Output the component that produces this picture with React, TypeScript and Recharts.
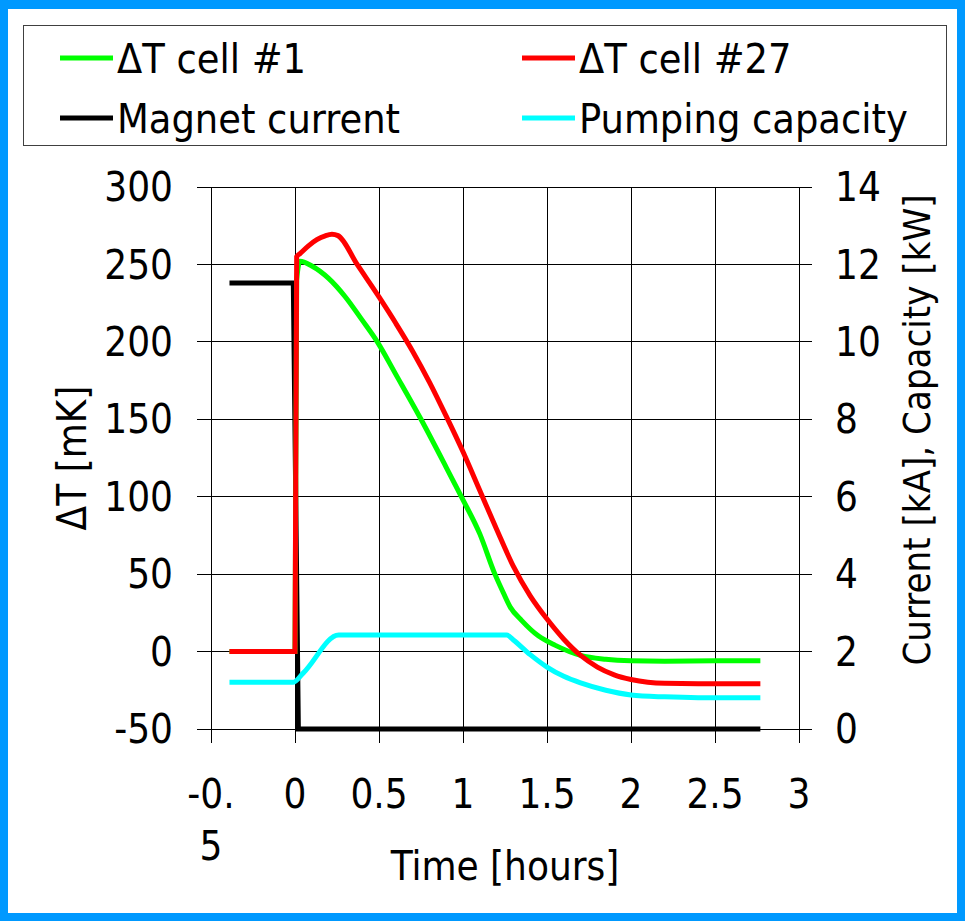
import { LineChart, Line, XAxis, YAxis, CartesianGrid } from 'recharts';

const FONT = '"DejaVu Sans Condensed", "DejaVu Sans", sans-serif';

// axes
const xTicks = [-0.5, 0, 0.5, 1, 1.5, 2, 2.5, 3];
const leftTicks = [-50, 0, 50, 100, 150, 200, 250, 300];
const rightTicks = [0, 2, 4, 6, 8, 10, 12, 14];

// ΔT cell #1 [mK]
const cell1Time = [-0.39, 0, 0.01, 0.03, 0.1, 0.2, 0.3, 0.4, 0.49, 0.6, 0.75, 0.9, 0.99, 1.1, 1.19, 1.24, 1.28, 1.35, 1.45, 1.55, 1.7, 1.85, 2.0, 2.2, 2.5, 2.77];
const cell1Values = [0, 0, 240, 252, 249, 241, 229, 214, 200, 179, 150, 119, 100, 76, 50, 38, 29, 20, 10, 4, -2.5, -5, -6, -6.3, -6, -6];

// ΔT cell #27 [mK]
const cell27Time = [-0.39, 0, 0.01, 0.03, 0.08, 0.13, 0.18, 0.22, 0.256, 0.37, 0.5, 0.6, 0.7, 0.8, 0.9, 1.0, 1.1, 1.2, 1.3, 1.4, 1.5, 1.6, 1.7, 1.8, 1.9, 2.0, 2.1, 2.2, 2.4, 2.77];
const cell27Values = [0, 0, 255, 257, 262, 266, 268.5, 269.5, 268.6, 250, 229, 212, 194, 174, 152, 129, 104, 79, 55, 36, 21, 8, -2.5, -10, -15, -18, -19.8, -20.5, -20.7, -20.7];

// Magnet current [kA]
const magnetTime = [-0.39, -0.01, 0.02, 2.77];
const magnetValues = [11.52, 11.52, 0, 0];

// Pumping capacity [kW]
const pumpTime = [-0.39, -0.01, 0.05, 0.26, 1.26, 1.3, 1.4, 1.5, 1.6, 1.7, 1.85, 2.0, 2.2, 2.4, 2.77];
const pumpValues = [1.21, 1.21, 1.45, 2.43, 2.43, 2.3, 1.92, 1.6, 1.36, 1.19, 1.0, 0.88, 0.83, 0.81, 0.81];

const toPoints = (t: number[], v: number[]) => t.map((time, i) => ({ time, value: v[i] }));

const cell1Data = toPoints(cell1Time, cell1Values);
const cell27Data = toPoints(cell27Time, cell27Values);
const magnetData = toPoints(magnetTime, magnetValues);
const pumpData = toPoints(pumpTime, pumpValues);

const legendItems = [
  { name: 'ΔT cell #1', color: '#00ff00' },
  { name: 'ΔT cell #27', color: '#ff0000' },
  { name: 'Magnet current', color: '#000000' },
  { name: 'Pumping capacity', color: '#00ffff' },
];

// excel wraps the too-wide "-0.5" label onto two lines
const TimeTick = ({ x, y, payload }: any) => {
  const label = String(payload.value);
  const lines = label.length > 3 ? [label.slice(0, 3), label.slice(3)] : [label];
  return (
    <text x={x} y={y} textAnchor="middle" fontFamily={FONT} fontSize={40} fill="#000">
      {lines.map((l, i) => (
        <tspan key={i} x={x} dy={i === 0 ? '0.71em' : 52}>
          {l}
        </tspan>
      ))}
    </text>
  );
};

function Legend() {
  return (
    <div
      style={{
        position: 'absolute',
        left: 23,
        top: 25,
        width: 924,
        height: 121,
        border: '1px solid #404040',
        boxSizing: 'border-box',
        background: '#fff',
      }}
    >
      <svg width={922} height={119} style={{ position: 'absolute', left: 0, top: 0 }}>
        {legendItems.map((item, i) => {
          const col = i % 2;
          const row = Math.floor(i / 2);
          const lx = col === 0 ? 36 : 498;
          const cy = 32 + row * 60;
          return (
            <g key={item.name}>
              <line x1={lx} x2={lx + 53} y1={cy} y2={cy} stroke={item.color} strokeWidth={5} />
              <text x={lx + 57} y={cy + 15} fontFamily={FONT} fontSize={41} fill="#000">
                {item.name}
              </text>
            </g>
          );
        })}
      </svg>
    </div>
  );
}

export default function App() {
  const tickStyle = { fill: '#000', fontSize: 40, fontFamily: FONT };
  const titleStyle = { fill: '#000', fontSize: 40, fontFamily: FONT };
  const crispLine = { stroke: '#000', shapeRendering: 'crispEdges' };

  return (
    <div
      style={{
        position: 'absolute',
        left: 0,
        top: 0,
        width: 965,
        height: 921,
        background: '#fff',
        border: '8px solid #0099ff',
        borderTopWidth: 9,
        boxSizing: 'border-box',
        overflow: 'hidden',
      }}
    >
      <div style={{ position: 'absolute', left: -8, top: -9 }}>
        <LineChart width={965} height={921} margin={{ top: 187, right: 66, bottom: 132, left: 111 }}>
          <CartesianGrid yAxisId="left" stroke="#000" strokeWidth={1} shapeRendering="crispEdges" />
          <XAxis
            dataKey="time"
            type="number"
            domain={[-0.5, 3]}
            ticks={xTicks}
            allowDataOverflow
            height={60}
            tick={<TimeTick />}
            tickSize={14}
            tickMargin={37}
            axisLine={crispLine}
            tickLine={crispLine}
            label={{ value: 'Time [hours]', position: 'center', dy: 107, style: titleStyle }}
          />
          <YAxis
            yAxisId="left"
            domain={[-50, 300]}
            ticks={leftTicks}
            width={100}
            tick={tickStyle}
            tickSize={14}
            tickMargin={24}
            axisLine={crispLine}
            tickLine={crispLine}
            label={{ value: 'ΔT [mK]', angle: -90, position: 'center', dx: -89, style: titleStyle }}
          />
          <YAxis
            yAxisId="right"
            orientation="right"
            domain={[0, 14]}
            ticks={rightTicks}
            width={100}
            tick={tickStyle}
            tickSize={13}
            tickMargin={23}
            axisLine={crispLine}
            tickLine={crispLine}
            label={{
              value: 'Current [kA], Capacity [kW]',
              angle: -90,
              position: 'center',
              dx: 68,
              dy: -28,
              style: { ...titleStyle, fontSize: 38 },
            }}
          />
          <Line
            data={magnetData}
            dataKey="value"
            yAxisId="right"
            type="linear"
            stroke="#000000"
            strokeWidth={5}
            dot={false}
            isAnimationActive={false}
          />
          <Line
            data={cell1Data}
            dataKey="value"
            yAxisId="left"
            type="monotone"
            stroke="#00ff00"
            strokeWidth={5}
            dot={false}
            isAnimationActive={false}
          />
          <Line
            data={cell27Data}
            dataKey="value"
            yAxisId="left"
            type="monotone"
            stroke="#ff0000"
            strokeWidth={5}
            dot={false}
            isAnimationActive={false}
          />
          <Line
            data={pumpData}
            dataKey="value"
            yAxisId="right"
            type="monotone"
            stroke="#00ffff"
            strokeWidth={5}
            dot={false}
            isAnimationActive={false}
          />
        </LineChart>
      </div>
      <div style={{ position: 'absolute', left: -8, top: -9 }}>
        <Legend />
      </div>
    </div>
  );
}
